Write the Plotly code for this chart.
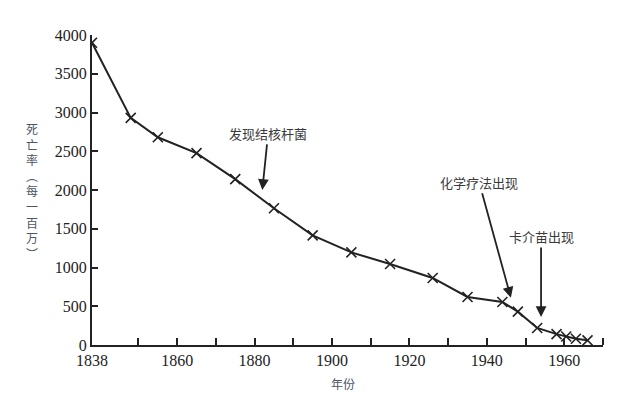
import plotly.graph_objects as go

years = [1838, 1848, 1855, 1865, 1875, 1885, 1895, 1905, 1915, 1926, 1935, 1944, 1948, 1953, 1958, 1960.5, 1963, 1966]
death_rate = [3900, 2930, 2680, 2475, 2140, 1765, 1415, 1195, 1045, 865, 620, 555, 430, 220, 140, 110, 80, 60]

x_tick_vals = [1838, 1860, 1880, 1900, 1920, 1940, 1960]
x_tick_text = ["1838", "1860", "1880", "1900", "1920", "1940", "1960"]
x_minor_ticks = [1850, 1860, 1870, 1880, 1890, 1900, 1910, 1920, 1930, 1940, 1950, 1960, 1970]
y_tick_vals = [0, 500, 1000, 1500, 2000, 2500, 3000, 3500, 4000]

events = [
    {"text": "发现结核杆菌", "x": 1882, "y": 2000, "tx": 1883.5, "ty": 2730},
    {"text": "化学疗法出现", "x": 1946.2, "y": 610, "tx": 1938, "ty": 2100},
    {"text": "卡介苗出现", "x": 1954, "y": 360, "tx": 1954, "ty": 1400},
]

serif = "Liberation Serif"
fig = go.Figure()
fig.add_trace(go.Scatter(
    x=years, y=death_rate, mode="lines+markers",
    line=dict(color="#222222", width=2),
    marker=dict(symbol="x-thin", size=10, line=dict(color="#222222", width=1.6)),
    showlegend=False, hoverinfo="skip",
))

for e in events:
    fig.add_annotation(
        x=e["x"], y=e["y"], ax=e["tx"], ay=e["ty"], axref="x", ayref="y",
        xref="x", yref="y", text=e["text"], showarrow=True,
        arrowhead=2, arrowsize=1.2, arrowwidth=1.8, arrowcolor="#222222",
        font=dict(family="Noto Sans CJK SC", size=13, color="#3a3a3a"),
    )

fig.add_annotation(
    xref="paper", yref="paper", x=-0.117, y=0.497, xanchor="center", yanchor="middle",
    text="<br>".join(list("死亡率︵每一百万︶")), showarrow=False,
    font=dict(family="Noto Sans CJK SC", size=12, color="#4d5566"),
)
fig.add_annotation(
    xref="paper", yref="paper", x=0.491, y=-0.123, xanchor="center", yanchor="middle",
    text="年份", showarrow=False,
    font=dict(family="Noto Sans CJK SC", size=12, color="#4d5566"),
)

fig.update_xaxes(
    range=[1838, 1970], tickvals=x_tick_vals, ticktext=x_tick_text,
    ticks="", showline=True, linecolor="#222222", linewidth=2,
    showgrid=False, zeroline=False, automargin=False,
    tickfont=dict(family=serif, size=16, color="#222222"),
    minor=dict(tickvals=x_minor_ticks, ticks="inside", ticklen=7, tickwidth=1.6, tickcolor="#222222"),
)
fig.update_yaxes(
    range=[0, 4000], tickvals=y_tick_vals,
    ticks="inside", ticklen=6, tickwidth=1.6, tickcolor="#222222",
    showline=True, linecolor="#222222", linewidth=2,
    showgrid=False, zeroline=False, automargin=False,
    tickfont=dict(family=serif, size=16, color="#222222"),
)
fig.update_layout(
    width=633, height=405,
    margin=dict(l=84, r=38, t=27, b=68),
    plot_bgcolor="white", paper_bgcolor="white",
)
fig.write_html("out.html")
